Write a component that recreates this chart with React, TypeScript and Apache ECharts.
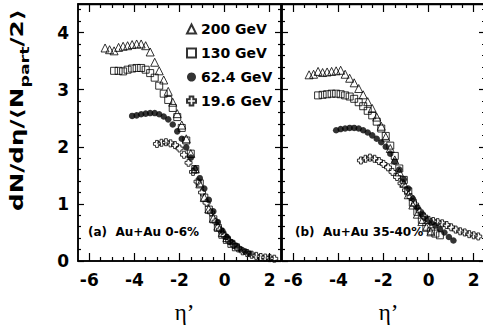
import React, { useEffect, useRef } from 'react';
import * as echarts from 'echarts';

// ---- data (η', dN/dη / <Npart/2>) ----
const SERIES_NAMES = ['200 GeV', '130 GeV', '62.4 GeV', '19.6 GeV'];

const A_200 = [[-5.3,3.73],[-5.1,3.70],[-4.9,3.68],[-4.7,3.74],[-4.5,3.76],[-4.3,3.77],[-4.1,3.79],[-3.9,3.80],[-3.7,3.80],[-3.5,3.77],[-3.3,3.66],[-3.1,3.48],[-2.9,3.33],[-2.7,3.17],[-2.5,2.97],[-2.3,2.78],[-2.1,2.58],[-1.9,2.38],[-1.7,2.14],[-1.5,1.88],[-1.3,1.61],[-1.1,1.35],[-0.9,1.11],[-0.7,0.91],[-0.5,0.75],[-0.3,0.61],[-0.1,0.50],[0.1,0.41]];
const A_130 = [[-4.9,3.33],[-4.7,3.33],[-4.5,3.32],[-4.3,3.35],[-4.1,3.37],[-3.9,3.38],[-3.7,3.38],[-3.5,3.35],[-3.3,3.29],[-3.1,3.21],[-2.9,3.07],[-2.7,2.93],[-2.5,2.82],[-2.3,2.68],[-2.1,2.52],[-1.9,2.33],[-1.7,2.11],[-1.5,1.88],[-1.3,1.61],[-1.1,1.36],[-0.9,1.11],[-0.7,0.90],[-0.5,0.73],[-0.3,0.58],[-0.1,0.46],[0.1,0.37],[0.3,0.30],[0.5,0.24]];
const A_62 = [[-4.1,2.54],[-3.9,2.55],[-3.7,2.57],[-3.5,2.58],[-3.3,2.59],[-3.1,2.59],[-2.9,2.57],[-2.7,2.53],[-2.5,2.48],[-2.3,2.39],[-2.1,2.27],[-1.9,2.14],[-1.7,1.99],[-1.5,1.81],[-1.3,1.62],[-1.1,1.45],[-0.9,1.27],[-0.7,1.07],[-0.5,0.87],[-0.3,0.68],[-0.1,0.53],[0.1,0.42],[0.3,0.33],[0.5,0.27],[0.7,0.21],[0.9,0.17],[1.1,0.13]];
const A_19 = [[-3.0,2.05],[-2.8,2.07],[-2.6,2.08],[-2.4,2.06],[-2.2,2.03],[-2.0,1.97],[-1.8,1.86],[-1.6,1.72],[-1.4,1.56],[-1.2,1.39],[-1.0,1.20],[-0.8,1.02],[-0.6,0.85],[-0.4,0.69],[-0.2,0.55],[0.0,0.44],[0.2,0.35],[0.4,0.28],[0.6,0.22],[0.8,0.17],[1.0,0.14],[1.2,0.11],[1.4,0.09],[1.6,0.07],[1.8,0.06],[2.0,0.05],[2.2,0.04]];

const B_200 = [[-5.3,3.26],[-5.1,3.27],[-4.9,3.32],[-4.7,3.30],[-4.5,3.31],[-4.3,3.32],[-4.1,3.33],[-3.9,3.34],[-3.7,3.27],[-3.5,3.20],[-3.3,3.12],[-3.1,3.02],[-2.9,2.91],[-2.7,2.79],[-2.5,2.67],[-2.3,2.52],[-2.1,2.36],[-1.9,2.17],[-1.7,1.97],[-1.5,1.77],[-1.3,1.56],[-1.1,1.36],[-0.9,1.16],[-0.7,0.98],[-0.5,0.82],[-0.3,0.69],[-0.1,0.59],[0.1,0.51]];
const B_130 = [[-4.9,2.90],[-4.7,2.91],[-4.5,2.92],[-4.3,2.93],[-4.1,2.93],[-3.9,2.92],[-3.7,2.90],[-3.5,2.88],[-3.3,2.84],[-3.1,2.78],[-2.9,2.71],[-2.7,2.63],[-2.5,2.55],[-2.3,2.44],[-2.1,2.32],[-1.9,2.19],[-1.7,2.02],[-1.5,1.84],[-1.3,1.62],[-1.1,1.42],[-0.9,1.22],[-0.7,1.02],[-0.5,0.86],[-0.3,0.72],[-0.1,0.60],[0.1,0.52],[0.3,0.48],[0.5,0.45]];
const B_62 = [[-4.1,2.29],[-3.9,2.31],[-3.7,2.32],[-3.5,2.33],[-3.3,2.33],[-3.1,2.32],[-2.9,2.29],[-2.7,2.25],[-2.5,2.20],[-2.3,2.14],[-2.1,2.08],[-1.9,2.00],[-1.7,1.88],[-1.5,1.74],[-1.3,1.60],[-1.1,1.43],[-0.9,1.27],[-0.7,1.09],[-0.5,0.94],[-0.3,0.83],[-0.1,0.74],[0.1,0.67],[0.3,0.62],[0.5,0.56],[0.7,0.50],[0.9,0.42],[1.1,0.36]];
const B_19 = [[-3.0,1.76],[-2.8,1.79],[-2.6,1.81],[-2.4,1.79],[-2.2,1.75],[-2.0,1.70],[-1.8,1.64],[-1.6,1.56],[-1.4,1.47],[-1.2,1.36],[-1.0,1.24],[-0.8,1.12],[-0.6,0.99],[-0.4,0.87],[-0.2,0.78],[0.0,0.72],[0.2,0.70],[0.4,0.68],[0.6,0.66],[0.8,0.63],[1.0,0.59],[1.2,0.55],[1.4,0.52],[1.6,0.50],[1.8,0.47],[2.0,0.45],[2.2,0.43]];

const X_MAJOR = [-6, -4, -2, 0, 2];
const X_MINOR = [-5.5, -5, -4.5, -3.5, -3, -2.5, -1.5, -1, -0.5, 0.5, 1, 1.5];
const Y_MAJOR = [0, 1, 2, 3, 4];
const Y_MINOR = [0.2, 0.4, 0.6, 0.8, 1.2, 1.4, 1.6, 1.8, 2.2, 2.4, 2.6, 2.8, 3.2, 3.4, 3.6, 3.8, 4.2, 4.4];
const PANEL_LABELS = ['(a)  Au+Au 0-6%', '(b)  Au+Au 35-40%'];
const X_NAME = 'η’';

const SANS = '"DejaVu Sans", sans-serif';
const CROSS = 'path://M3,0 L7,0 L7,3 L10,3 L10,7 L7,7 L7,10 L3,10 L3,7 L0,7 L0,3 L3,3 Z';

const PLOT_TOP = 4;
const PLOT_H = 257;
const FRAME = { show: true, borderColor: '#000', borderWidth: 1.5, backgroundColor: 'rgba(0,0,0,0)', outerBoundsMode: 'none', containLabel: false };
const GRIDS = [
  { ...FRAME, left: 78, top: PLOT_TOP, width: 203, height: PLOT_H },
  { ...FRAME, left: 282, top: PLOT_TOP, width: 203, height: PLOT_H },
];

const lineOn = () => ({ show: true, onZero: false, lineStyle: { color: '#000', width: 1.5 } });
const lineOff = () => ({ show: false, onZero: false });
const tick = (vals: number[], len: number) => ({ show: true, inside: true, length: len, customValues: vals, lineStyle: { color: '#000', width: 1.2 } });

function xAxesFor(g: number) {
  const base = { type: 'value', gridIndex: g, min: -6.5, max: 2.5, splitLine: { show: false } };
  return [
    {
      ...base, position: 'bottom', axisLine: lineOn(), axisTick: tick(X_MAJOR, 8),
      axisLabel: { show: true, customValues: X_MAJOR, margin: 10, fontFamily: SANS, fontWeight: 'bold', fontSize: 17, color: '#000' },
      name: X_NAME, nameLocation: 'middle', nameGap: 40,
      nameTextStyle: { fontFamily: '"Liberation Serif", serif', fontSize: 23, color: '#000', padding: [0, 0, 0, 10] },
    },
    { ...base, position: 'bottom', axisLine: lineOff(), axisTick: tick(X_MINOR, 4), axisLabel: { show: false } },
    { ...base, position: 'top', axisLine: lineOn(), axisTick: tick(X_MAJOR, 8), axisLabel: { show: false } },
    { ...base, position: 'top', axisLine: lineOff(), axisTick: tick(X_MINOR, 4), axisLabel: { show: false } },
  ];
}

function yAxesFor(g: number, labels: boolean) {
  const base = { type: 'value', gridIndex: g, min: 0, max: 4.5, splitLine: { show: false } };
  return [
    {
      ...base, position: 'left', axisLine: lineOn(), axisTick: tick(Y_MAJOR, 6),
      axisLabel: labels
        ? { show: true, customValues: Y_MAJOR, margin: 9, fontFamily: SANS, fontWeight: 'bold', fontSize: 17, color: '#000' }
        : { show: false },
    },
    { ...base, position: 'left', axisLine: lineOff(), axisTick: tick(Y_MINOR, 3), axisLabel: { show: false } },
    { ...base, position: 'right', axisLine: lineOn(), axisTick: tick(Y_MAJOR, 6), axisLabel: { show: false } },
    { ...base, position: 'right', axisLine: lineOff(), axisTick: tick(Y_MINOR, 3), axisLabel: { show: false } },
  ];
}

const OPEN = { color: 'rgba(255,255,255,0)', borderColor: '#000', borderWidth: 1 };

function seriesFor(g: number, d200: number[][], d130: number[][], d62: number[][], d19: number[][]) {
  const common = { type: 'scatter', xAxisIndex: g * 4, yAxisIndex: g * 4 };
  return [
    { ...common, name: SERIES_NAMES[0], data: d200, symbol: 'triangle', symbolSize: 8, itemStyle: OPEN },
    { ...common, name: SERIES_NAMES[1], data: d130, symbol: 'rect', symbolSize: 7, itemStyle: OPEN },
    { ...common, name: SERIES_NAMES[3], data: d19, symbol: CROSS, symbolSize: 7, itemStyle: OPEN },
    { ...common, name: SERIES_NAMES[2], data: d62, symbol: 'circle', symbolSize: 6.5, itemStyle: { color: '#000' } },
  ];
}

export default function App() {
  const ref = useRef<HTMLDivElement>(null);
  useEffect(() => {
    document.body.style.margin = '0';
    const chart = echarts.init(ref.current!, null, { renderer: 'svg' });
    chart.setOption({
      animation: false,
      backgroundColor: '#fff',
      grid: GRIDS,
      xAxis: [...xAxesFor(0), ...xAxesFor(1)],
      yAxis: [...yAxesFor(0, true), ...yAxesFor(1, false)],
      legend: {
        data: SERIES_NAMES,
        orient: 'vertical',
        left: 186,
        top: 21,
        padding: 0,
        itemWidth: 9,
        itemHeight: 9,
        itemGap: 8,
        textStyle: { fontFamily: SANS, fontWeight: 'bold', fontSize: 14, color: '#000', lineHeight: 16 },
      },
      series: [...seriesFor(0, A_200, A_130, A_62, A_19), ...seriesFor(1, B_200, B_130, B_62, B_19)],
      graphic: [
        {
          type: 'line', z: 100, silent: true,
          shape: { x1: GRIDS[0].left, y1: PLOT_TOP + 0.5, x2: GRIDS[1].left + GRIDS[1].width, y2: PLOT_TOP + 0.5 },
          style: { stroke: '#000', lineWidth: 1.5 },
        },
        {
          type: 'text', x: 17, y: 110, rotation: Math.PI / 2, scaleX: 1.45,
          style: {
            text: '{m|dN/dη/⟨N}{s|part}{m|/2⟩}',
            align: 'center', verticalAlign: 'middle', fill: '#000',
            rich: {
              m: { fontFamily: SANS, fontWeight: 'bold', fontSize: 17, fill: '#000' },
              s: { fontFamily: SANS, fontWeight: 'bold', fontSize: 12, fill: '#000', padding: [16, 0, 0, 0] },
            },
          },
        },
        { type: 'text', x: 88, y: 232, style: { text: PANEL_LABELS[0], font: 'bold 12px "DejaVu Sans"', fill: '#000', verticalAlign: 'middle' } },
        { type: 'text', x: 295, y: 232, style: { text: PANEL_LABELS[1], font: 'bold 12px "DejaVu Sans"', fill: '#000', verticalAlign: 'middle' } },
      ],
    });
    return () => chart.dispose();
  }, []);
  return <div ref={ref} style={{ width: 483, height: 328 }} />;
}
